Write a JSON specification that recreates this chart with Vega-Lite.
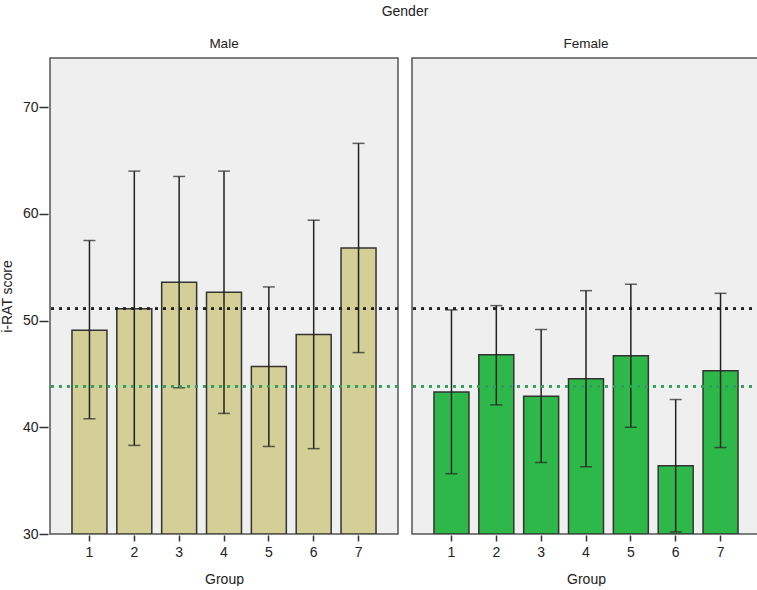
{
  "$schema": "https://vega.github.io/schema/vega-lite/v6.json",
  "padding": {"left": 0, "top": 5, "right": 0, "bottom": 0},
  "background": "white",
  "config": {
    "font": "Liberation Sans",
    "view": {"fill": "#efefef", "stroke": "#555555", "strokeWidth": 1.5},
    "axis": {"grid": false, "labelFont": "Liberation Sans", "titleFont": "Liberation Sans", "labelColor": "#222", "titleColor": "#222", "titleFontWeight": "normal", "labelFontSize": 14, "titleFontSize": 14, "tickColor": "#333", "tickWidth": 1.5, "domain": false}
  },
  "data": {"values": [
    {"gender": "Male", "group": "1", "mean": 49.1, "lo": 40.8, "hi": 57.5},
    {"gender": "Male", "group": "2", "mean": 51.1, "lo": 38.3, "hi": 64.0},
    {"gender": "Male", "group": "3", "mean": 53.6, "lo": 43.7, "hi": 63.5},
    {"gender": "Male", "group": "4", "mean": 52.65, "lo": 41.3, "hi": 64.0},
    {"gender": "Male", "group": "5", "mean": 45.7, "lo": 38.2, "hi": 53.15},
    {"gender": "Male", "group": "6", "mean": 48.7, "lo": 38.0, "hi": 59.4},
    {"gender": "Male", "group": "7", "mean": 56.8, "lo": 47.0, "hi": 66.6},
    {"gender": "Female", "group": "1", "mean": 43.3, "lo": 35.65, "hi": 51.0},
    {"gender": "Female", "group": "2", "mean": 46.8, "lo": 42.1, "hi": 51.4},
    {"gender": "Female", "group": "3", "mean": 42.9, "lo": 36.7, "hi": 49.15},
    {"gender": "Female", "group": "4", "mean": 44.55, "lo": 36.3, "hi": 52.8},
    {"gender": "Female", "group": "5", "mean": 46.7, "lo": 40.0, "hi": 53.4},
    {"gender": "Female", "group": "6", "mean": 36.4, "lo": 30.2, "hi": 42.6},
    {"gender": "Female", "group": "7", "mean": 45.3, "lo": 38.1, "hi": 52.55}
  ]},
  "facet": {
    "column": {
      "field": "gender", "type": "nominal", "sort": ["Male", "Female"],
      "header": {"title": "Gender", "titleFont": "Liberation Sans", "titleFontSize": 14, "titleFontWeight": "normal", "titleColor": "#222", "titlePadding": 7, "labelFont": "Liberation Sans", "labelFontSize": 13.5, "labelColor": "#222", "labelPadding": 7}
    }
  },
  "spacing": 10,
  "spec": {
    "width": 348,
    "height": 476,
    "encoding": {
      "x": {"field": "group", "type": "ordinal", "title": "Group",
        "scale": {"paddingInner": 0.22, "paddingOuter": 0.49},
        "axis": {"labelAngle": 0, "tickSize": 6, "labelPadding": 4, "titlePadding": 13}}
    },
    "layer": [
      {
        "mark": {"type": "bar", "stroke": "#333333", "strokeWidth": 1.5, "clip": true},
        "encoding": {
          "y": {"field": "mean", "type": "quantitative", "title": "i-RAT score",
            "scale": {"domain": [30, 74.6], "nice": false, "zero": false},
            "axis": {"values": [30, 40, 50, 60, 70], "tickSize": 9, "labelPadding": 1, "titlePadding": 8}},
          "y2": {"datum": 30},
          "color": {"field": "gender", "type": "nominal", "legend": null,
            "scale": {"domain": ["Male", "Female"], "range": ["#d3cf97", "#2eb84a"]}}
        }
      },
      {
        "mark": {"type": "rule", "stroke": "#222222", "strokeWidth": 1.5},
        "encoding": {"y": {"field": "lo", "type": "quantitative"}, "y2": {"field": "hi"}}
      },
      {
        "mark": {"type": "tick", "color": "#222222", "size": 12, "thickness": 1.5},
        "encoding": {"y": {"field": "lo", "type": "quantitative"}}
      },
      {
        "mark": {"type": "tick", "color": "#222222", "size": 12, "thickness": 1.5},
        "encoding": {"y": {"field": "hi", "type": "quantitative"}}
      },
      {
        "mark": {"type": "rule", "stroke": "#222222", "strokeWidth": 2, "strokeDash": [3, 5]},
        "encoding": {"y": {"datum": 51.1}, "x": null}
      },
      {
        "mark": {"type": "rule", "stroke": "#2e9e5e", "strokeWidth": 2, "strokeDash": [3, 5]},
        "encoding": {"y": {"datum": 43.85}, "x": null}
      }
    ]
  }
}
